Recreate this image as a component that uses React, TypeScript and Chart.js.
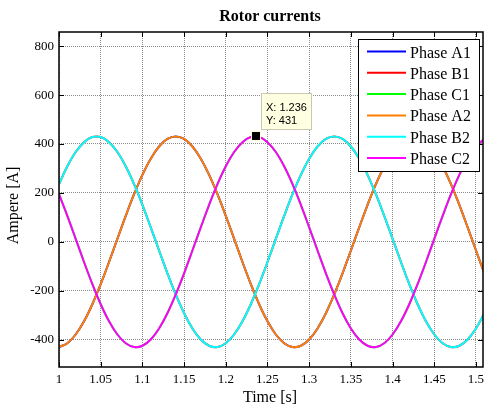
import React, { useEffect, useRef } from "react";
import { Chart, registerables } from "chart.js";

Chart.register(...registerables);

// ---- data ----
const times = [
  1.0, 1.01, 1.02, 1.03, 1.04, 1.05, 1.06, 1.07, 1.08, 1.09,
  1.1, 1.11, 1.12, 1.13, 1.14, 1.15, 1.16, 1.17, 1.18, 1.19,
  1.2, 1.21, 1.22, 1.23, 1.24, 1.25, 1.26, 1.27, 1.28, 1.29,
  1.3, 1.31, 1.32, 1.33, 1.34, 1.35, 1.36, 1.37, 1.38, 1.39,
  1.4, 1.41, 1.42, 1.43, 1.44, 1.45, 1.46, 1.47, 1.48, 1.49,
  1.5, 1.51,
];

const phaseA = [
  -430.3, -414.8, -379.1, -325.1, -255.3, -173.1, -82.6, 11.9, 105.8, 194.6,
  274.0, 340.1, 389.8, 420.6, 431.0, 420.6, 389.8, 340.1, 274.0, 194.6,
  105.8, 11.9, -82.6, -173.1, -255.3, -325.1, -379.1, -414.8, -430.3, -425.1,
  -399.3, -354.2, -292.0, -215.5, -128.7, -35.6, 59.2, 151.2, 235.7, 308.8,
  367.2, 407.6, 428.4, 428.4, 407.6, 367.2, 308.8, 235.7, 151.2, 59.2,
  -35.6, -128.7,
];

const phaseB = [
  235.7, 308.8, 367.2, 407.6, 428.4, 428.4, 407.6, 367.2, 308.8, 235.7,
  151.2, 59.2, -35.6, -128.7, -215.5, -292.0, -354.2, -399.3, -425.1, -430.3,
  -414.8, -379.1, -325.1, -255.3, -173.1, -82.6, 11.9, 105.8, 194.6, 274.0,
  340.1, 389.8, 420.6, 431.0, 420.6, 389.8, 340.1, 274.0, 194.6, 105.8,
  11.9, -82.6, -173.1, -255.3, -325.1, -379.1, -414.8, -430.3, -425.1, -399.3,
  -354.2, -292.0,
];

const phaseC = [
  194.6, 105.8, 11.9, -82.6, -173.1, -255.3, -325.1, -379.1, -414.8, -430.3,
  -425.1, -399.3, -354.2, -292.0, -215.5, -128.7, -35.6, 59.2, 151.2, 235.7,
  308.8, 367.2, 407.6, 428.4, 428.4, 407.6, 367.2, 308.8, 235.7, 151.2,
  59.2, -35.6, -128.7, -215.5, -292.0, -354.2, -399.3, -425.1, -430.3, -414.8,
  -379.1, -325.1, -255.3, -173.1, -82.6, 11.9, 105.8, 194.6, 274.0, 340.1,
  389.8, 420.6,
];

const seriesNames = ["Phase A1", "Phase B1", "Phase C1", "Phase A2", "Phase B2", "Phase C2"];
const seriesColors = ["#0000ff", "#ff0000", "#00ff00", "#ff8000", "#00ffff", "#ff00ff"];
const seriesValues = [phaseA, phaseB, phaseC, phaseA, phaseB, phaseC];

const xTickValues = [1, 1.05, 1.1, 1.15, 1.2, 1.25, 1.3, 1.35, 1.4, 1.45, 1.5];
const xTickLabels = ["1", "1.05", "1.1", "1.15", "1.2", "1.25", "1.3", "1.35", "1.4", "1.45", "1.5"];
const yTickValues = [-400, -200, 0, 200, 400, 600, 800];
const yTickLabels = ["-400", "-200", "0", "200", "400", "600", "800"];

const xMin = 1;
const xMax = 1.5084;
const yMin = -512;
const yMax = 858;

const tipX = 1.236;
const tipY = 431;

const titleText = "Rotor currents";
const xTitle = "Time [s]";
const yTitle = "Ampere [A]";

const SERIF = '"Liberation Serif", "Times New Roman", serif';
const SANS = '"Liberation Sans", Arial, sans-serif';

const findLabel = (vals: number[], labels: string[], v: number) => {
  for (let i = 0; i < vals.length; i++) if (Math.abs(vals[i] - v) < 1e-9) return labels[i];
  return "";
};

const decorPlugin = {
  id: "matlabDecor",
  afterDraw(chart: any) {
    const { ctx, chartArea } = chart;
    const { left, right, top, bottom } = chartArea;
    const xs = chart.scales.x;
    const ys = chart.scales.y;
    ctx.save();

    // axes box
    ctx.strokeStyle = "#000";
    ctx.lineWidth = 1.5;
    ctx.strokeRect(left, top, right - left, bottom - top);

    // inward ticks on all sides
    ctx.lineWidth = 1;
    ctx.beginPath();
    xTickValues.forEach((v) => {
      const px = Math.round(xs.getPixelForValue(v)) + 0.5;
      ctx.moveTo(px, bottom);
      ctx.lineTo(px, bottom - 5);
      ctx.moveTo(px, top);
      ctx.lineTo(px, top + 5);
    });
    yTickValues.forEach((v) => {
      const py = Math.round(ys.getPixelForValue(v)) + 0.5;
      ctx.moveTo(left, py);
      ctx.lineTo(left + 5, py);
      ctx.moveTo(right, py);
      ctx.lineTo(right - 5, py);
    });
    ctx.stroke();

    // title
    ctx.fillStyle = "#000";
    ctx.textAlign = "center";
    ctx.textBaseline = "middle";
    ctx.font = `bold 16px ${SERIF}`;
    ctx.fillText(titleText, (left + right) / 2 - 1, top - 15.5);

    // axis titles
    ctx.font = `16px ${SERIF}`;
    ctx.fillText(xTitle, (left + right) / 2 - 1, bottom + 31);
    ctx.save();
    ctx.translate(14, (top + bottom) / 2 + 6);
    ctx.rotate(-Math.PI / 2);
    ctx.fillText(yTitle, 0, 0);
    ctx.restore();

    // legend
    const lw = 121;
    const lh = 132;
    const lx = right - 4 - lw;
    const ly = top + 7;
    ctx.fillStyle = "#fff";
    ctx.fillRect(lx, ly, lw, lh);
    ctx.strokeStyle = "#000";
    ctx.lineWidth = 1;
    ctx.strokeRect(lx + 0.5, ly + 0.5, lw, lh);
    ctx.font = `16px ${SERIF}`;
    ctx.textAlign = "left";
    ctx.textBaseline = "alphabetic";
    chart.data.datasets.forEach((ds: any, i: number) => {
      const ry = ly + 12.5 + i * 21.3;
      ctx.strokeStyle = ds.borderColor;
      ctx.lineWidth = 2;
      ctx.beginPath();
      ctx.moveTo(lx + 9, ry);
      ctx.lineTo(lx + 48, ry);
      ctx.stroke();
      ctx.fillStyle = "#000";
      ctx.fillText(ds.label, lx + 52, ry + 6);
    });

    // data tip
    const mx = xs.getPixelForValue(tipX);
    const my = ys.getPixelForValue(tipY);
    const bx = Math.round(mx + 5.5);
    const by = Math.round(my - 43);
    ctx.fillStyle = "#ffffe1";
    ctx.fillRect(bx, by, 50, 36);
    ctx.strokeStyle = "#c8c8b4";
    ctx.lineWidth = 1;
    ctx.strokeRect(bx + 0.5, by + 0.5, 50, 36);
    ctx.fillStyle = "#000";
    ctx.font = `11px ${SANS}`;
    ctx.fillText(`X: ${tipX}`, bx + 5, by + 17.7);
    ctx.fillText(`Y: ${tipY}`, bx + 5, by + 31);
    ctx.fillStyle = "#000";
    ctx.fillRect(Math.round(mx) - 4, Math.round(my) - 4, 8, 8);
    ctx.strokeStyle = "#ffffcc";
    ctx.strokeRect(Math.round(mx) - 4.5, Math.round(my) - 4.5, 9, 9);

    ctx.restore();
  },
};

export default function App() {
  const canvasRef = useRef<HTMLCanvasElement | null>(null);

  useEffect(() => {
    if (!canvasRef.current) return;
    const datasets = seriesNames.map((name, i) => ({
      label: name,
      data: times.map((t, k) => ({ x: t, y: seriesValues[i][k] })),
      borderColor: seriesColors[i],
      backgroundColor: seriesColors[i],
      borderWidth: 2,
      pointRadius: 0,
      tension: 0.4,
      fill: false,
      clip: 0,
      order: seriesNames.length - i,
    }));

    const gridOpts = { color: "#8c8c8c", lineWidth: 1, drawTicks: false };
    const chart = new Chart(canvasRef.current, {
      type: "line",
      data: { datasets },
      options: {
        animation: false,
        responsive: false,
        maintainAspectRatio: false,
        layout: { padding: { top: 32, left: 0, right: 1, bottom: 0 } },
        plugins: {
          legend: { display: false },
          tooltip: { enabled: false },
          title: { display: false },
        },
        scales: {
          x: {
            type: "linear",
            min: xMin,
            max: xMax,
            grid: gridOpts,
            border: { display: false, dash: [1, 1] },
            afterBuildTicks: (s: any) => {
              s.ticks = xTickValues.map((v) => ({ value: v }));
            },
            afterFit: (s: any) => {
              s.height = 41;
              s.paddingLeft = 0;
              s.paddingRight = 0;
            },
            ticks: {
              includeBounds: false,
              autoSkip: false,
              maxRotation: 0,
              minRotation: 0,
              padding: 5,
              color: "#000",
              font: { family: SERIF, size: 13 },
              callback: (v: any) => findLabel(xTickValues, xTickLabels, Number(v)),
            },
          },
          y: {
            type: "linear",
            min: yMin,
            max: yMax,
            grid: gridOpts,
            border: { display: false, dash: [1, 1] },
            afterBuildTicks: (s: any) => {
              s.ticks = yTickValues.map((v) => ({ value: v }));
            },
            afterFit: (s: any) => {
              s.width = 59;
              s.paddingTop = 0;
              s.paddingBottom = 0;
            },
            ticks: {
              includeBounds: false,
              autoSkip: false,
              padding: 5,
              color: "#000",
              font: { family: SERIF, size: 13 },
              callback: (v: any) => findLabel(yTickValues, yTickLabels, Number(v)),
            },
          },
        },
      } as any,
      plugins: [decorPlugin],
    });
    return () => chart.destroy();
  }, []);

  return (
    <div style={{ position: "absolute", left: 0, top: 0, width: 484, height: 408, background: "#fff" }}>
      <canvas ref={canvasRef} width={484} height={408} style={{ display: "block" }} />
    </div>
  );
}
